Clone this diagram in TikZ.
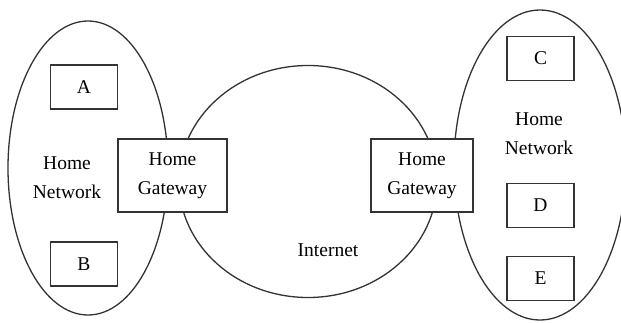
\documentclass[tikz,border=0pt]{standalone}
\usepackage{fontspec}
\setmainfont{Liberation Serif}
\usetikzlibrary{shapes}

\begin{document}
\begin{tikzpicture}[x=1pt,y=-1pt,node distance=73pt,font=\fontsize{19.5}{29}\selectfont]
  \tikzstyle{net}=[ellipse,draw=black!80,line width=1.3pt,inner sep=0pt]
  \tikzstyle{host}=[rectangle,draw=black!80,line width=1.3pt,fill=white,
                    minimum width=67pt,minimum height=44pt]
  \tikzstyle{gateway}=[host,minimum height=73pt,align=center]
  \tikzstyle{netname}=[align=center]
  \useasboundingbox (0,0) rectangle (621,322);
  \fill[white] (0,0) rectangle (621,322);
  % networks
  \node [net,minimum width=160pt,minimum height=294pt] (home1) at (88,168) {};
  \node [net,minimum width=258pt,minimum height=232pt] (internet) at (308,181.5) {};
  \node [net,minimum width=172pt,minimum height=310pt] (home2) at (540,165) {};
  % left side
  \node [host] (A) at (84,87) {A};
  \node [host] (B) at (84,264) {B};
  \node [netname] (name1) at (67,178) {Home\\Network};
  \node [gateway,minimum width=109pt] (gw1) at (172.5,175.5) {Home\\Gateway};
  % right side
  \node [gateway,minimum width=102pt] (gw2) at (422,175.5) {Home\\Gateway};
  \node [host] (C) at (540.5,58.5) {C};
  \node [netname] (name2) at (539,134) {Home\\Network};
  \node [host] (D) at (540.5,205.5) {D};
  \node [host] (E) [below of=D] {E};
  \node (inet) at (328,250) {Internet};
\end{tikzpicture}
\end{document}
